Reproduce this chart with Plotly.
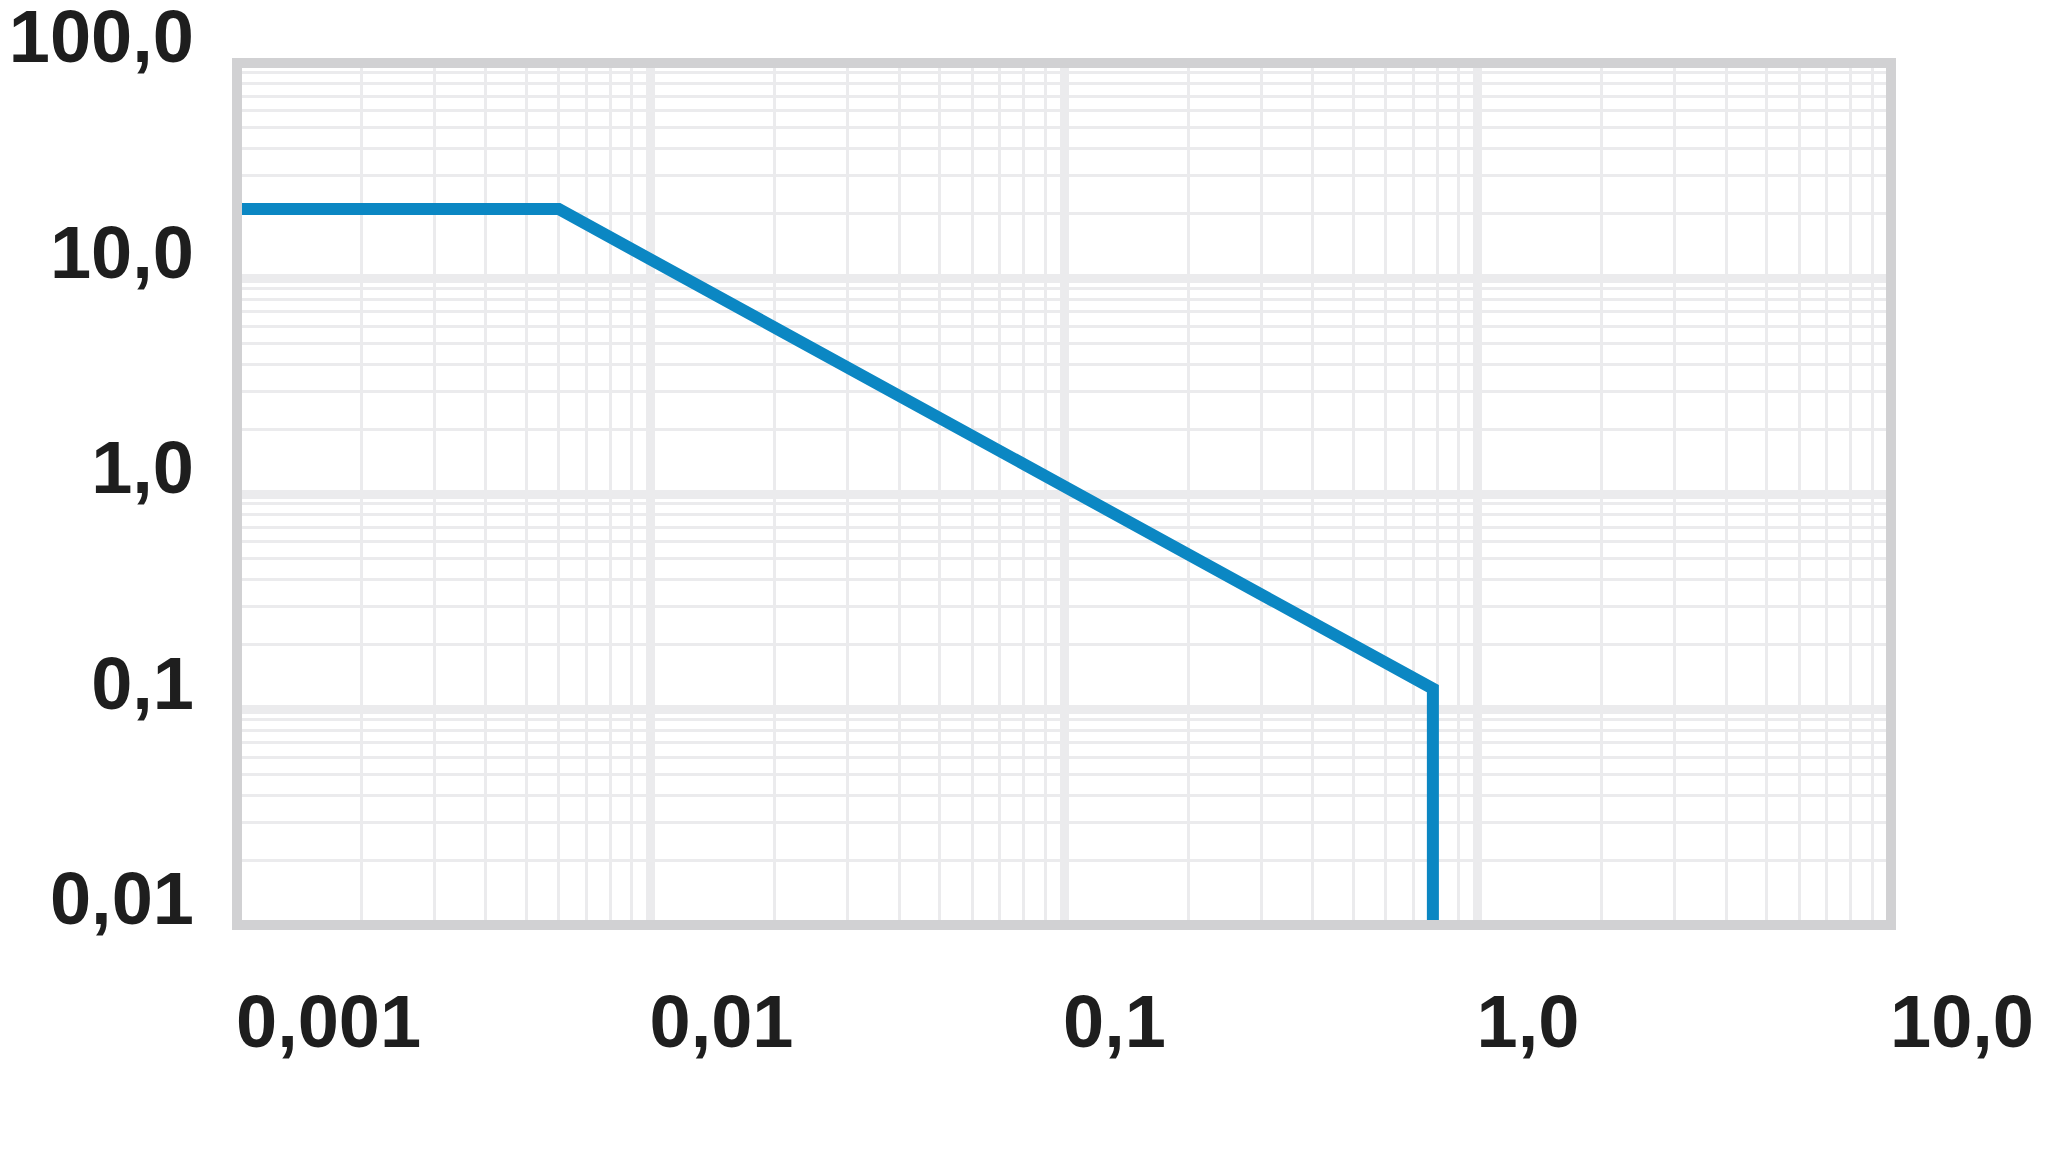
import plotly.graph_objects as go

# Data
curve_x = [0.001, 0.006, 0.78, 0.78]
curve_y = [21.0, 21.0, 0.125, 0.01]

x_tickvals = [0.001, 0.01, 0.1, 1.0, 10.0]
x_ticktext = ["0,001", "0,01", "0,1", "1,0", "10,0"]
y_tickvals = [0.01, 0.1, 1.0, 10.0, 100.0]
y_ticktext = ["0,01", "0,1", "1,0", "10,0", "100,0"]

LINE_COLOR = "#0b87c3"
FRAME = "#d1d1d3"
GRID = "#ebebed"
TXT = "#1e1e1e"
FONT = dict(family="Liberation Sans, Arial, sans-serif", size=74, color=TXT, weight="bold")

fig = go.Figure()
fig.add_trace(go.Scatter(
    x=curve_x, y=curve_y, mode="lines",
    line=dict(color=LINE_COLOR, width=12),
    hoverinfo="skip", showlegend=False,
))

axis_common = dict(
    type="log",
    automargin=False,
    showline=False,
    showgrid=True, gridcolor=GRID, gridwidth=9,
    ticks="", zeroline=False,
    tickfont=FONT,
    tickmode="array",
    ticklabeloverflow="allow",
    minor=dict(dtick="D1", showgrid=True, gridcolor=GRID, gridwidth=2.5, ticks=""),
)

fig.update_xaxes(
    **axis_common,
    range=[-3, 1],
    tickvals=x_tickvals, ticktext=x_ticktext,
    ticklabelposition="outside right",
    ticklabelstandoff=47,
    ticklabelshift=-1,
)
fig.update_yaxes(
    **axis_common,
    range=[-2, 2],
    tickvals=y_tickvals, ticktext=y_ticktext,
    ticklabelposition="outside top",
    ticklabelstandoff=42,
    ticklabelshift=25,
)

# frame centred on the plot-area edges
fig.add_shape(
    type="rect", xref="paper", yref="paper", x0=0, x1=1, y0=0, y1=1,
    line=dict(color=FRAME, width=10), fillcolor="rgba(0,0,0,0)", layer="above",
)

# page body has an 8px default margin, so the figure is offset accordingly
fig.update_layout(
    template="none",
    width=2040, height=1142,
    margin=dict(l=229, r=157, t=55, b=225),
    paper_bgcolor="white", plot_bgcolor="white",
    font=FONT,
    showlegend=False,
)

fig.write_html("out.html")
